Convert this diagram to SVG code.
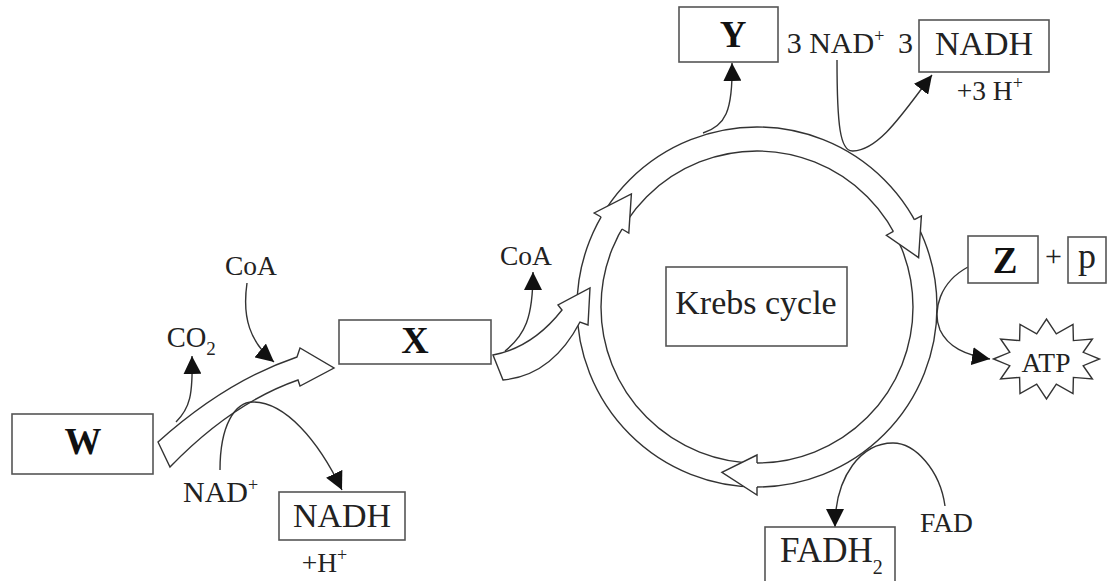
<svg xmlns="http://www.w3.org/2000/svg" width="1108" height="581" viewBox="0 0 1108 581">
<defs>
<style>
.bx{fill:#fff;stroke:#555;stroke-width:1.6}
.ln{fill:none;stroke:#333;stroke-width:1.4}
.ring{fill:none;stroke:#333;stroke-width:1.4}
.wa{fill:#fff;stroke:#333;stroke-width:1.4;stroke-linejoin:miter}
.hf{fill:#fff;stroke:none}
.t{font-family:"Liberation Serif","Times New Roman",serif;fill:#222}
.b{font-family:"Liberation Serif","Times New Roman",serif;font-weight:bold;fill:#111}
.sup{font-size:18px}
</style>
<marker id="ah" viewBox="0 0 18 18" refX="18" refY="9" markerWidth="18" markerHeight="18" orient="auto" markerUnits="userSpaceOnUse">
<path d="M0,0 L18,9 L0,18 z" fill="#111"/>
</marker>
</defs>
<rect width="1108" height="581" fill="#fff"/>

<g id="ring">
<circle class="ring" cx="757" cy="307" r="180"/>
<circle class="ring" cx="757" cy="307" r="156"/>
<polygon class="hf" points="601.1,217 594.2,213 631.4,193.9 628.8,233 621.9,229"/>
<polyline class="ln" points="601.1,217 594.2,213 631.4,193.9 628.8,233 621.9,229"/>
<polygon class="hf" points="914.4,219.7 921.4,215.9 918.6,257.6 886.4,235.2 893.4,231.4"/>
<polyline class="ln" points="914.4,219.7 921.4,215.9 918.6,257.6 886.4,235.2 893.4,231.4"/>
<polygon class="hf" points="757,463 757,455 721.9,472.3 757,495 757,487"/>
<polyline class="ln" points="757,463 757,455 721.9,472.3 757,495 757,487"/>
</g>

<g id="big-arrows">
<path class="wa" d="M 493,355 Q 532.5,347.5 562,310 L 558,305 L 590,288 L 588,325 L 580,322 Q 552,375.6 503,380 Z"/>
<path class="wa" d="M 158,442 Q 226,381 297,357 L 300,348 L 334,368 L 300,386 L 298,380 Q 232,403 170,467 Z"/>
</g>

<g id="connectors">
<path class="ln" d="M 176,422 C 190,408 193,395 192,356" marker-end="url(#ah)"/>
<path class="ln" d="M 247,283 C 242,318 250,342 274,362" marker-end="url(#ah)"/>
<path class="ln" d="M 220,470 C 220,425 235,402 253,402 C 285,402 318,440 342,490" marker-end="url(#ah)"/>
<path class="ln" d="M 505,351 C 525,335 533,318 533,272" marker-end="url(#ah)"/>
<path class="ln" d="M 703,133 C 725,126 733,112 732,63" marker-end="url(#ah)"/>
<path class="ln" d="M 837,60 C 837,125 840,152 853,151 C 880,150 905,110 932,75" marker-end="url(#ah)"/>
<path class="ln" d="M 968,267 C 940,282 932,310 940,330 C 948,347 965,355 990,359" marker-end="url(#ah)"/>
<path class="ln" d="M 945,506 C 940,470 915,443 893,443 C 862,443 835,475 835,527" marker-end="url(#ah)"/>
</g>

<g id="node-W">
<rect class="bx" x="12" y="414" width="141" height="60"/>
<text class="b" x="83" y="454" font-size="37" text-anchor="middle">W</text>
</g>
<g id="node-X">
<rect class="bx" x="339" y="320" width="152" height="44"/>
<text class="b" x="415" y="353" font-size="38" text-anchor="middle">X</text>
</g>
<g id="node-Y">
<rect class="bx" x="679" y="7" width="99" height="55"/>
<text class="b" x="733" y="47" font-size="37" text-anchor="middle">Y</text>
</g>
<g id="node-Z">
<rect class="bx" x="968" y="236" width="70" height="47"/>
<text class="b" x="1005" y="272.5" font-size="37" text-anchor="middle">Z</text>
</g>
<g id="node-p">
<text class="t" x="1053.5" y="265.5" font-size="30" text-anchor="middle">+</text>
<rect class="bx" x="1068" y="237" width="38" height="46"/>
<text class="t" x="1087" y="268" font-size="36" text-anchor="middle">p</text>
</g>
<g id="node-krebs">
<rect class="bx" x="666" y="267" width="181" height="79"/>
<text class="t" x="756" y="314" font-size="34" text-anchor="middle">Krebs cycle</text>
</g>
<g id="node-NADH-top">
<text class="t" x="786.7" y="53.3" font-size="30">3 NAD<tspan class="sup" dy="-11">+</tspan></text>
<text class="t" x="898" y="53.3" font-size="30">3</text>
<rect class="bx" x="919" y="20" width="130" height="52"/>
<text class="t" x="984" y="55" font-size="34" text-anchor="middle">NADH</text>
<text class="t" x="956.7" y="100" font-size="27.5">+3 H<tspan class="sup" dy="-11">+</tspan></text>
</g>
<g id="node-ATP">
<polygon class="wa" points="993.5,359 1009.8,352.3 1000.6,339 1019.6,340.6 1020,324.4 1036.7,333.9 1046.5,319 1056.3,333.9 1073,324.4 1073.4,340.6 1092.4,339 1083.2,352.3 1099.5,359 1083.2,365.7 1092.4,379 1073.4,377.4 1073,393.6 1056.3,384.1 1046.5,399 1036.7,384.1 1020,393.6 1019.6,377.4 1000.6,379 1009.8,365.7"/>
<text class="t" x="1046" y="371.7" font-size="27.5" text-anchor="middle">ATP</text>
</g>
<g id="node-FADH2">
<text class="t" x="920" y="532.3" font-size="27.5">FAD</text>
<rect class="bx" x="765" y="527" width="130" height="57"/>
<text class="t" x="780" y="561.7" font-size="35">FADH<tspan font-size="20" dy="12">2</tspan></text>
</g>
<g id="node-left-labels">
<text class="t" x="225" y="275" font-size="27.5">CoA</text>
<text class="t" x="166.7" y="346.7" font-size="28.5">CO<tspan font-size="19" dy="8">2</tspan></text>
<text class="t" x="500" y="265" font-size="27.5">CoA</text>
<text class="t" x="183" y="501.7" font-size="30">NAD<tspan class="sup" dy="-11">+</tspan></text>
<rect class="bx" x="279" y="492" width="126" height="48"/>
<text class="t" x="342" y="527" font-size="34" text-anchor="middle">NADH</text>
<text class="t" x="301.7" y="571.7" font-size="27.5">+H<tspan class="sup" dy="-11">+</tspan></text>
</g>
</svg>
